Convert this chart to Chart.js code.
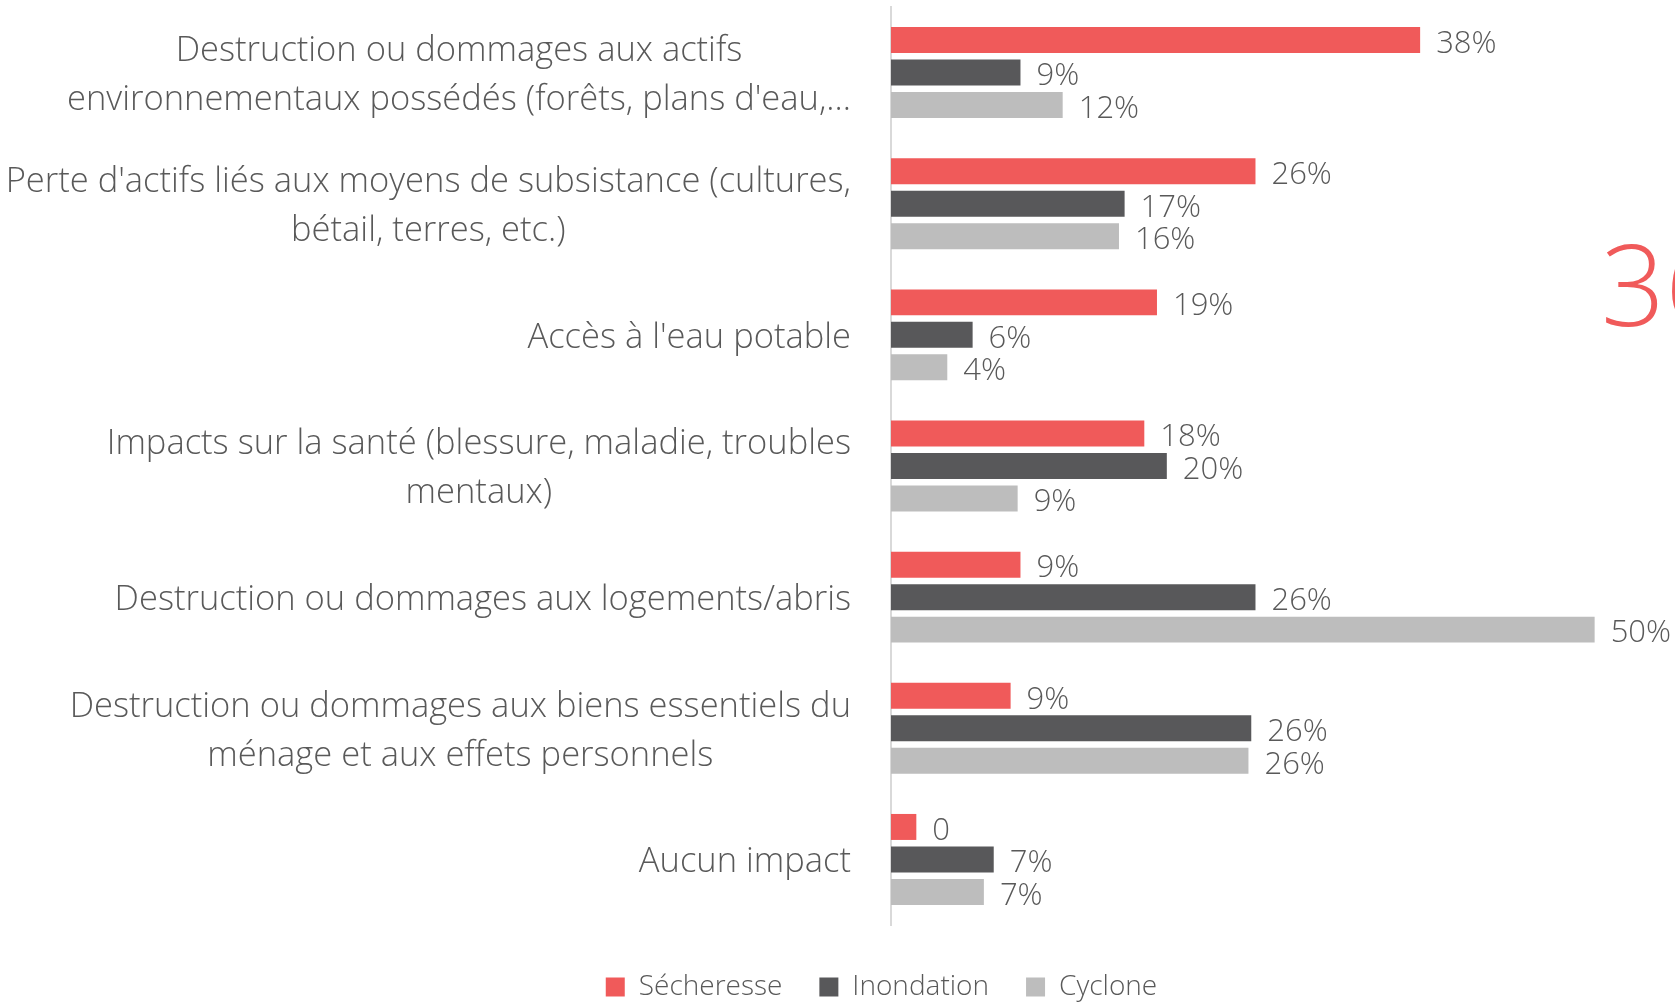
<!DOCTYPE html>
<html>
<head>
<meta charset="utf-8">
<script src="https://cdn.jsdelivr.net/npm/chart.js@4.4.1/dist/chart.umd.min.js"></script>
<style>
    html, body { margin: 0; padding: 0; background: #ffffff; }
    #wrap { width: 1675px; height: 1002px; }
</style>
</head>
<body>
<div id="wrap"><canvas id="chart" width="1675" height="1002"></canvas></div>
<script>
// categories, each one as its wrapped lines
var categories = [
    ["Destruction ou dommages aux actifs", "environnementaux possédés (forêts, plans d'eau,..."],
    ["Perte d'actifs liés aux moyens de subsistance (cultures,", "bétail, terres, etc.)"],
    ["Accès à l'eau potable"],
    ["Impacts sur la santé (blessure, maladie, troubles", "mentaux)"],
    ["Destruction ou dommages aux logements/abris"],
    ["Destruction ou dommages aux biens essentiels du", "ménage et aux effets personnels"],
    ["Aucun impact"]
];

var secheresse = [37.6, 25.9, 18.9, 18, 9.2, 8.5, 1.8];
var inondation = [9.2, 16.6, 5.8, 19.6, 25.9, 25.6, 7.3];
var cyclone = [12.2, 16.2, 4.0, 9.0, 50, 25.4, 6.6];

var secheresseText = ["38%", "26%", "19%", "18%", "9%", "9%", "0"];
var inondationText = ["9%", "17%", "6%", "20%", "26%", "26%", "7%"];
var cycloneText = ["12%", "16%", "4%", "9%", "50%", "26%", "7%"];

var FONT = "'Open Sans', 'Noto Sans', sans-serif";
var TEXT_COLOR = "#595959";
var AXIS_X = 891;
var LEFT_PAD = 98;

var labelsPlugin = {
    id: "customLabels",
    afterDatasetsDraw: function (chart) {
        var ctx = chart.ctx;
        ctx.save();
        // value labels at bar ends
        ctx.font = "300 31px " + FONT;
        ctx.fillStyle = TEXT_COLOR;
        ctx.textAlign = "left";
        ctx.textBaseline = "middle";
        chart.data.datasets.forEach(function (ds, d) {
            var meta = chart.getDatasetMeta(d);
            meta.data.forEach(function (bar, i) {
                ctx.fillText(ds.valueText[i], bar.x + 16, bar.y + 4);
            });
        });

        // category labels, lines centred, block right aligned to the axis
        var yScale = chart.scales.y;
        var right = yScale.right - 40;
        var lineHeight = 49;
        ctx.font = "300 34.5px " + FONT;
        ctx.textAlign = "center";
        for (var i = 0; i < categories.length; i++) {
            var lines = categories[i];
            var maxW = 0;
            for (var j = 0; j < lines.length; j++) {
                maxW = Math.max(maxW, ctx.measureText(lines[j]).width);
            }
            var cx = right - maxW / 2;
            var cy = yScale.getPixelForValue(i) + 3;
            for (var j = 0; j < lines.length; j++) {
                ctx.fillText(lines[j], cx, cy + (j - (lines.length - 1) / 2) * lineHeight);
            }
        }

        // stray number clipped at the right edge
        ctx.font = "300 112px " + FONT;
        ctx.fillStyle = "#f05a5a";
        ctx.textAlign = "left";
        ctx.textBaseline = "alphabetic";
        ctx.fillText("36", 1601, 326);
        ctx.restore();
    }
};

var chart = new Chart(document.getElementById("chart"), {
    type: "bar",
    data: {
        labels: categories.map(function (c) { return c.join(" "); }),
        datasets: [
            {
                label: "Sécheresse",
                data: secheresse,
                valueText: secheresseText,
                backgroundColor: "#f05a5a",
                borderWidth: 0
            },
            {
                label: "Inondation",
                data: inondation,
                valueText: inondationText,
                backgroundColor: "#58585a",
                borderWidth: 0
            },
            {
                label: "Cyclone",
                data: cyclone,
                valueText: cycloneText,
                backgroundColor: "#bdbdbd",
                borderWidth: 0
            }
        ]
    },
    options: {
        indexAxis: "y",
        responsive: false,
        animation: false,
        categoryPercentage: 0.743,
        barPercentage: 0.8,
        layout: {
            padding: { top: 7, right: 10, bottom: -9, left: LEFT_PAD }
        },
        plugins: {
            legend: {
                position: "bottom",
                labels: {
                    boxWidth: 19,
                    boxHeight: 19,
                    padding: 37,
                    color: TEXT_COLOR,
                    font: { family: FONT, size: 28, weight: "300" }
                }
            },
            tooltip: { enabled: false }
        },
        scales: {
            x: {
                display: true,
                min: 0,
                max: 55,
                grid: { display: false },
                border: { display: false },
                ticks: { display: false },
                afterFit: function (scale) {
                    scale.height = 11;
                }
            },
            y: {
                grid: { display: false },
                border: { display: true, color: "#d9d9d9", width: 2 },
                ticks: { display: false },
                afterFit: function (scale) {
                    scale.width = AXIS_X - LEFT_PAD;
                }
            }
        }
    },
    plugins: [labelsPlugin]
});
</script>
</body>
</html>
